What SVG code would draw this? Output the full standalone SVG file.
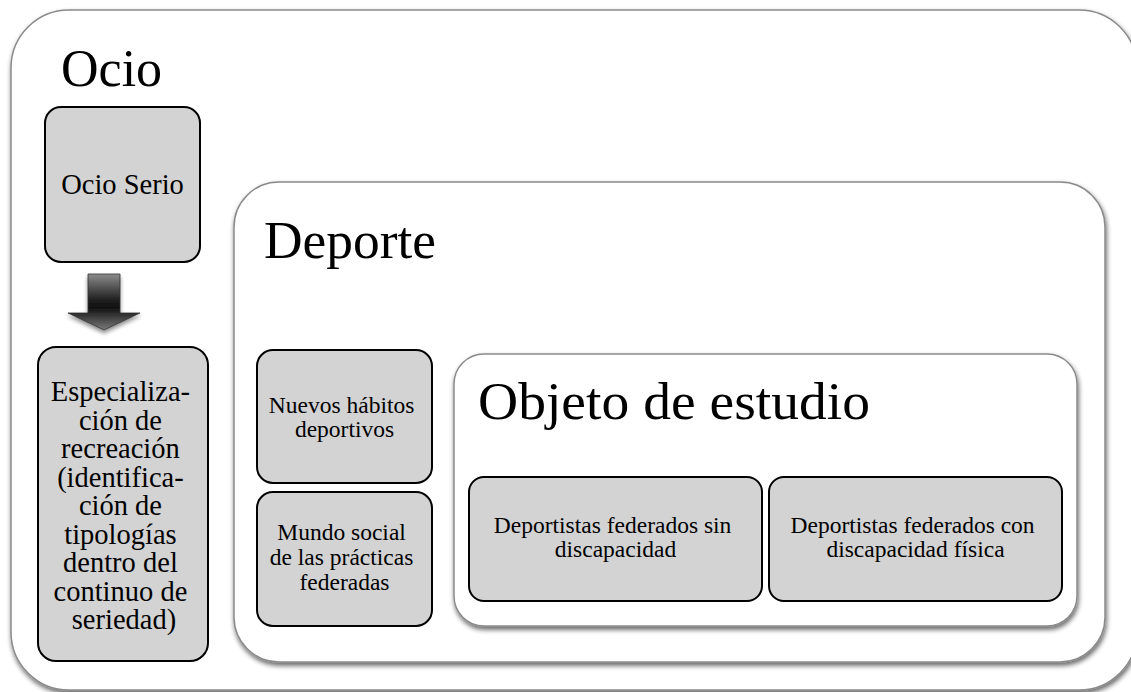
<svg xmlns="http://www.w3.org/2000/svg" width="1131" height="692" viewBox="0 0 1131 692">
<defs>
<filter id="sh" x="-10%" y="-10%" width="120%" height="125%">
<feGaussianBlur in="SourceAlpha" stdDeviation="2.5"/>
<feOffset dx="1" dy="3" result="b"/>
<feComponentTransfer><feFuncA type="linear" slope="0.6"/></feComponentTransfer>
<feMerge><feMergeNode/><feMergeNode in="SourceGraphic"/></feMerge>
</filter>
<filter id="ash" x="-30%" y="-30%" width="160%" height="160%">
<feGaussianBlur in="SourceAlpha" stdDeviation="2"/>
<feOffset dx="0" dy="3"/>
<feComponentTransfer><feFuncA type="linear" slope="0.45"/></feComponentTransfer>
<feMerge><feMergeNode/><feMergeNode in="SourceGraphic"/></feMerge>
</filter>
<linearGradient id="ag" x1="0" y1="0" x2="0" y2="1">
<stop offset="0" stop-color="#8c8c8c"/>
<stop offset="0.45" stop-color="#222"/>
<stop offset="0.6" stop-color="#111"/>
<stop offset="1" stop-color="#7a7a7a"/>
</linearGradient>
<style>
.cont{fill:#fff;stroke:#8a8a8a;stroke-width:1.5}
.box{fill:#d3d3d3;stroke:#000;stroke-width:2}
text{fill:#000}
.title{font-size:52px}
.lc{font-size:28.5px;text-anchor:middle}
.sm{font-size:23.5px;text-anchor:middle}
</style>
</defs>

<g id="ocio">
<rect class="cont" x="11" y="10" width="1126" height="680" rx="58" ry="58" filter="url(#sh)"/>
<text class="title" font-family="Liberation Serif, Times New Roman, serif" x="61" y="86">Ocio</text>
</g>

<g id="ocio-serio">
<rect class="box" x="45" y="107" width="155" height="155" rx="16"/>
<text class="lc" font-family="Liberation Serif, Times New Roman, serif" x="122.5" y="194">Ocio Serio</text>
</g>

<g id="connectors">
<polygon points="88,274 120,274 120,313 140,313 104,330 68,313 88,313" fill="url(#ag)" stroke="#333" stroke-width="0.8" filter="url(#ash)"/>
</g>

<g id="especializacion">
<rect class="box" x="38" y="347" width="170" height="314" rx="18"/>
<text class="lc" font-family="Liberation Serif, Times New Roman, serif">
<tspan x="124" y="401">Especializa-</tspan>
<tspan x="124" y="429.5">ción de</tspan>
<tspan x="124" y="458">recreación</tspan>
<tspan x="124" y="486.5">(identifica-</tspan>
<tspan x="124" y="515">ción de</tspan>
<tspan x="124" y="543.5">tipologías</tspan>
<tspan x="124" y="572">dentro del</tspan>
<tspan x="124" y="600.5">continuo de</tspan>
<tspan x="124" y="629">seriedad)</tspan>
</text>
</g>

<g id="deporte">
<rect class="cont" x="234" y="182" width="871" height="480" rx="45" ry="45" filter="url(#sh)"/>
<text class="title" font-family="Liberation Serif, Times New Roman, serif" x="264" y="258" textLength="172" lengthAdjust="spacingAndGlyphs">Deporte</text>
</g>

<g id="nuevos-habitos">
<rect class="box" x="257" y="350" width="175" height="133" rx="16"/>
<text class="sm" font-family="Liberation Serif, Times New Roman, serif">
<tspan x="344.5" y="413">Nuevos hábitos</tspan>
<tspan x="344.5" y="437">deportivos</tspan>
</text>
</g>

<g id="mundo-social">
<rect class="box" x="257" y="492" width="175" height="134" rx="16"/>
<text class="sm" font-family="Liberation Serif, Times New Roman, serif">
<tspan x="344.5" y="540">Mundo social</tspan>
<tspan x="344.5" y="565">de las prácticas</tspan>
<tspan x="344.5" y="590">federadas</tspan>
</text>
</g>

<g id="objeto">
<rect class="cont" x="454" y="354" width="623" height="272" rx="30" ry="30" filter="url(#sh)"/>
<text class="title" font-family="Liberation Serif, Times New Roman, serif" x="478" y="419" textLength="392" lengthAdjust="spacingAndGlyphs">Objeto de estudio</text>
</g>

<g id="sin-discapacidad">
<rect class="box" x="469" y="477" width="293" height="124" rx="15"/>
<text class="sm" font-family="Liberation Serif, Times New Roman, serif">
<tspan x="615.5" y="533">Deportistas federados sin</tspan>
<tspan x="615.5" y="557">discapacidad</tspan>
</text>
</g>

<g id="con-discapacidad">
<rect class="box" x="769" y="477" width="293" height="124" rx="15"/>
<text class="sm" font-family="Liberation Serif, Times New Roman, serif">
<tspan x="915.5" y="533">Deportistas federados con</tspan>
<tspan x="915.5" y="557">discapacidad física</tspan>
</text>
</g>
</svg>
